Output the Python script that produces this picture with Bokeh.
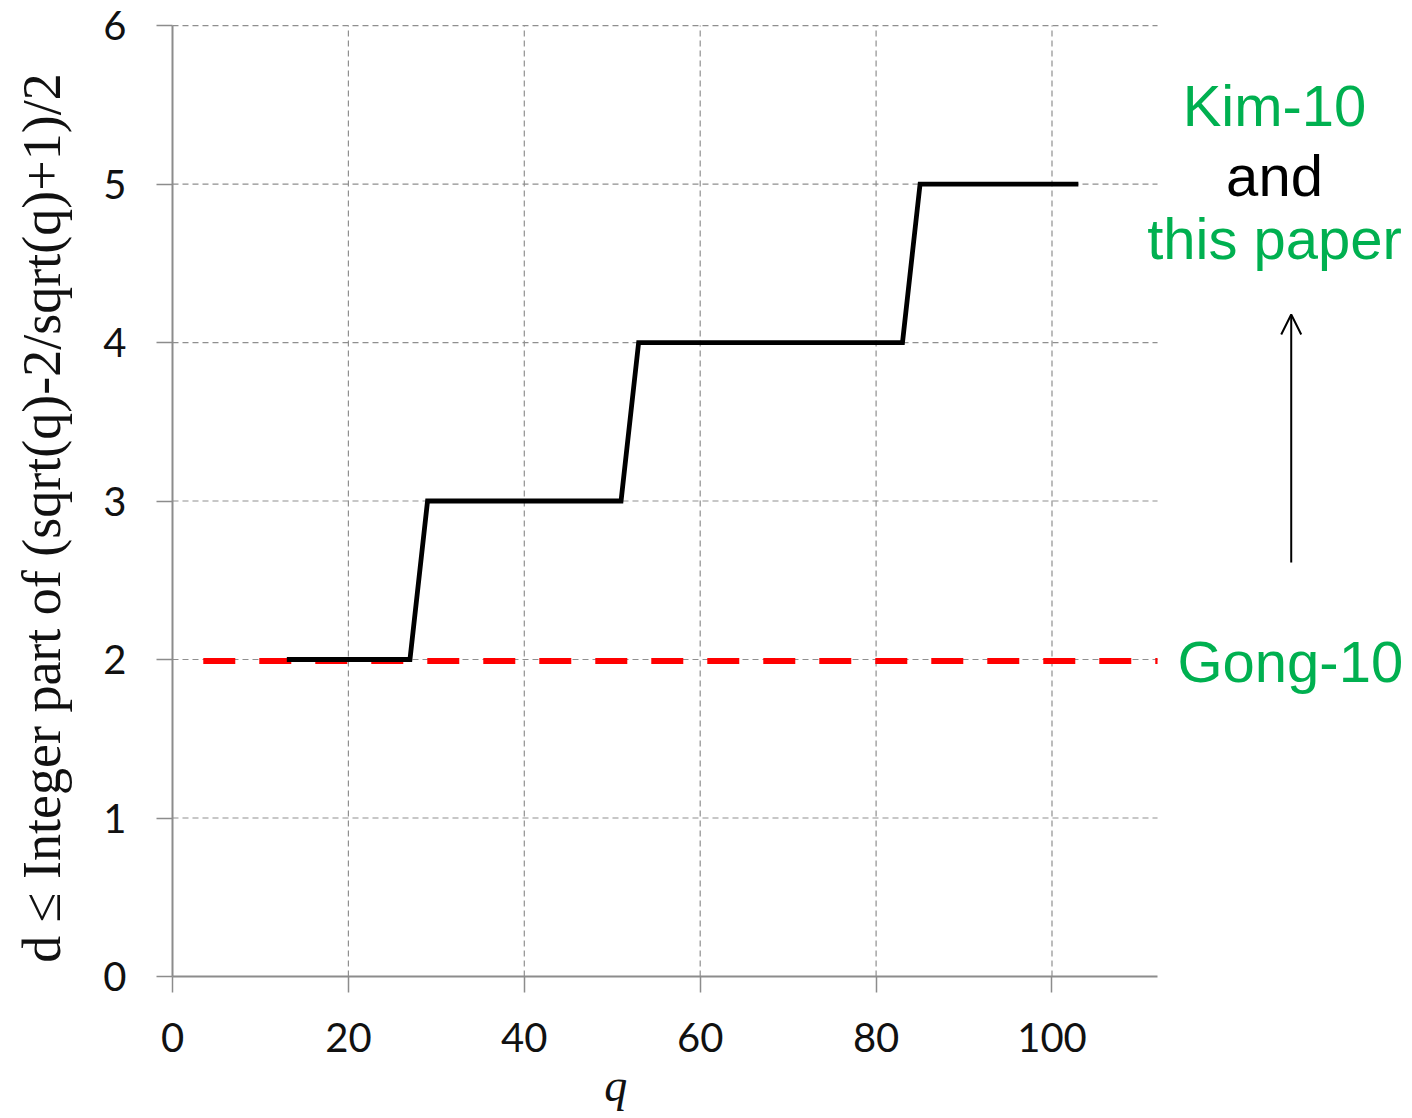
from bokeh.plotting import figure
from bokeh.models import Range1d, Label, Arrow, OpenHead, FixedTicker
from bokeh.embed import file_html
from bokeh.resources import INLINE
from math import pi

# Data
step_q = [13, 27, 29, 51, 53, 83, 85, 103]
step_d = [2, 2, 3, 3, 4, 4, 5, 5]
gong_q = [3.5, 112]
gong_d = [1.99, 1.99]
x_ticks = [0, 20, 40, 60, 80, 100]
y_ticks = [0, 1, 2, 3, 4, 5, 6]
x_max = 112
y_max = 6

W, H = 1404, 1118
p = figure(width=W, height=H, output_backend="svg", toolbar_location=None,
           x_range=Range1d(-19.556, 140.08), y_range=Range1d(-0.8959, 6.158),
           min_border_left=0, min_border_top=0, min_border_right=0, min_border_bottom=0)
p.outline_line_color = None
p.background_fill_color = "white"
p.grid.visible = False

for ax in (p.xaxis[0], p.yaxis[0]):
    ax.fixed_location = 0
    ax.axis_line_color = "#8c8c8c"
    ax.axis_line_width = 2
    ax.major_tick_line_color = "#8c8c8c"
    ax.major_tick_line_width = 1.5
    ax.major_tick_out = 16
    ax.major_tick_in = 0
    ax.minor_tick_line_color = None
    ax.major_label_text_font = "Lato"
    ax.major_label_text_font_size = "40px"
    ax.major_label_text_color = "#111111"

p.xaxis.ticker = FixedTicker(ticks=x_ticks)
p.yaxis.ticker = FixedTicker(ticks=y_ticks)
p.xaxis.bounds = (0, x_max)
p.yaxis.bounds = (0, y_max)
p.xaxis.major_label_standoff = 30
p.yaxis.major_label_standoff = 30

# dashed grid lines from the tick arrays
vx = x_ticks[1:]
p.segment(x0=vx, y0=[0] * len(vx), x1=vx, y1=[y_max] * len(vx),
          line_color="#8f8f8f", line_width=1.2, line_dash="6 4")
hy = y_ticks[1:]
p.segment(x0=[0] * len(hy), y0=hy, x1=[x_max] * len(hy), y1=hy,
          line_color="#8f8f8f", line_width=1.2, line_dash="6 4")

p.line(gong_q, gong_d, line_color="#ff0000", line_width=6, line_dash="32 24")
p.line(step_q, step_d, line_color="black", line_width=4.8, line_join="miter")

# Axis titles
p.add_layout(Label(x=-14.8, y=2.893, text="d \u2264 Integer part of (sqrt(q)-2/sqrt(q)+1)/2",
                   angle=pi / 2, text_align="center", text_baseline="middle",
                   text_font="Liberation Serif", text_font_size="54px", text_color="#111111"))
p.add_layout(Label(x=50.4, y=-0.688, text="q", text_align="center", text_baseline="alphabetic",
                   text_font="Liberation Serif", text_font_style="italic",
                   text_font_size="46px", text_color="#111111"))

# Annotations on the right
green = "#00b050"
p.add_layout(Label(x=125.3, y=5.495, text="Kim-10", text_align="center", text_baseline="alphabetic",
                   text_font="Liberation Sans", text_font_size="58px", text_color=green))
p.add_layout(Label(x=125.3, y=5.054, text="and", text_align="center", text_baseline="alphabetic",
                   text_font="Liberation Sans", text_font_size="58px", text_color="black"))
p.add_layout(Label(x=125.3, y=4.656, text="this paper", text_align="center", text_baseline="alphabetic",
                   text_font="Liberation Sans", text_font_size="58px", text_color=green))
p.add_layout(Label(x=127.1, y=1.988, text="Gong-10", text_align="center", text_baseline="alphabetic",
                   text_font="Liberation Sans", text_font_size="58px", text_color=green))
p.add_layout(Arrow(x_start=127.2, y_start=2.612, x_end=127.2, y_end=4.177,
                   line_color="black", line_width=2,
                   end=OpenHead(size=20, line_width=2, line_color="black")))

open("out.html", "w").write(file_html(p, INLINE))
